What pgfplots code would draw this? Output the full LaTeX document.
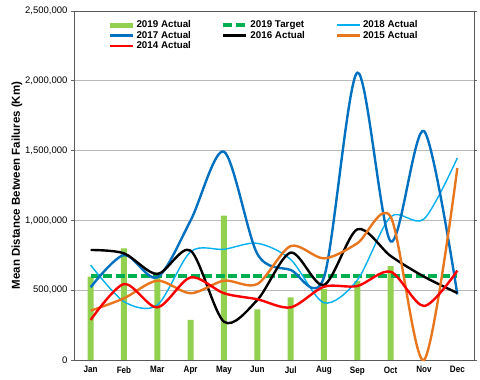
\documentclass[border=0pt]{standalone}
\usepackage{fontspec}
\setmainfont{Liberation Sans}
\newfontfamily\narrowfont{Liberation Sans}[FakeStretch=0.87]
\usepackage{pgfplots}
\pgfplotsset{compat=1.18}
\definecolor{cbar}{HTML}{92D050}
\definecolor{ctarget}{HTML}{00B050}
\definecolor{c18}{HTML}{00B0F0}
\definecolor{c17}{HTML}{0070C0}
\definecolor{c15}{HTML}{E8761E}
\definecolor{c14}{HTML}{FF0000}
\begin{document}
\begin{tikzpicture}
\begin{axis}[
  name=ax, at={(0pt,0pt)}, anchor=south west,
  scale only axis, width=400pt, height=349pt,
  xmin=-0.5, xmax=11.5, ymin=0, ymax=2500000,
  xtick={0,1,2,3,4,5,6,7,8,9,10,11},
  xticklabels={Jan,Feb,Mar,Apr,May,Jun,Jul,Aug,Sep,Oct,Nov,Dec},
  xticklabel style={font=\narrowfont\bfseries\fontsize{9.3}{10}\selectfont},
  xtick style={draw=none},
  ytick={0,500000,1000000,1500000,2000000,2500000},
  scaled y ticks=false,
  /pgf/number format/assume math mode=true,
  yticklabel style={/pgf/number format/fixed, /pgf/number format/1000 sep={,}, font=\fontsize{9.5}{10}\selectfont},
  tick align=outside, major tick length=3pt,
  ytick style={gray!80!black, line width=0.6pt},
  ymajorgrids, grid style={gray!55, line width=0.6pt},
  axis line style={gray!70!black, line width=0.8pt},
  ylabel={Mean Distance Between Failures (Km)},
  ylabel style={at={(axis description cs:-0.1425,0.5)}, anchor=center, font=\bfseries\fontsize{11.5}{12}\selectfont},
  clip=false,
  legend columns=3,
  legend cell align=left,
  legend style={at={(axis description cs:0.087,0.975)}, anchor=north west, draw=none, fill=none,
    font=\bfseries\fontsize{9.8}{10}\selectfont, inner sep=0pt, row sep=0pt,
    nodes={inner sep=0.6pt, text height=7.2pt, text depth=2pt},
    /tikz/every odd column/.append style={column sep=1.5pt},
    /tikz/every even column/.append style={column sep=30pt}},
  legend image code/.code={\draw[#1] (0pt,0pt) -- (23pt,0pt);},
]
\addplot[ybar, bar width=6pt, bar shift=0pt, fill=cbar, draw=none,
  legend image code/.code={\fill[cbar] (0pt,-2.6pt) rectangle (23pt,2.6pt);}]
  coordinates {(0,597000) (1,800000) (2,625000) (3,287000) (4,1034000) (5,363000) (6,449000) (7,508000) (8,566000) (9,673000)};
\addlegendentry{2019 Actual}
\addplot[ctarget, line width=3.8pt, dash pattern=on 9pt off 3.5pt]
  coordinates {(0,600000) (1,600000) (2,600000) (3,600000) (4,600000) (5,600000) (6,600000) (7,600000) (8,600000) (9,600000) (10,600000) (11,600000)};
\addlegendentry{2019 Target}
\addplot[c18, line width=1.4pt, smooth]
  coordinates {(0,680000) (1,418000) (2,394000) (3,776000) (4,793000) (5,836000) (6,720000) (7,410000) (8,573000) (9,1026000) (10,1010000) (11,1447000)};
\addlegendentry{2018 Actual}
\addplot[c17, line width=2.4pt, smooth]
  coordinates {(0,521000) (1,752000) (2,592000) (3,1000000) (4,1492000) (5,760000) (6,645000) (7,592000) (8,2058000) (9,850000) (10,1640000) (11,470000)};
\addlegendentry{2017 Actual}
\addplot[black, line width=2.4pt, smooth]
  coordinates {(0,788000) (1,764000) (2,616000) (3,783000) (4,274000) (5,430000) (6,769000) (7,537000) (8,936000) (9,745000) (10,597000) (11,480000)};
\addlegendentry{2016 Actual}
\addplot[c15, line width=2.4pt, smooth]
  coordinates {(0,353000) (1,442000) (2,568000) (3,478000) (4,568000) (5,544000) (6,816000) (7,728000) (8,836000) (9,1026000) (10,0) (11,1375000)};
\addlegendentry{2015 Actual}
\addplot[c14, line width=2.4pt, smooth]
  coordinates {(0,287000) (1,544000) (2,377000) (3,592000) (4,478000) (5,435000) (6,377000) (7,525000) (8,530000) (9,632000) (10,387000) (11,640000)};
\addlegendentry{2014 Actual}
\end{axis}
\pgfresetboundingbox
\path (-74pt,-20pt) rectangle (406pt,360pt);
\end{tikzpicture}
\end{document}
